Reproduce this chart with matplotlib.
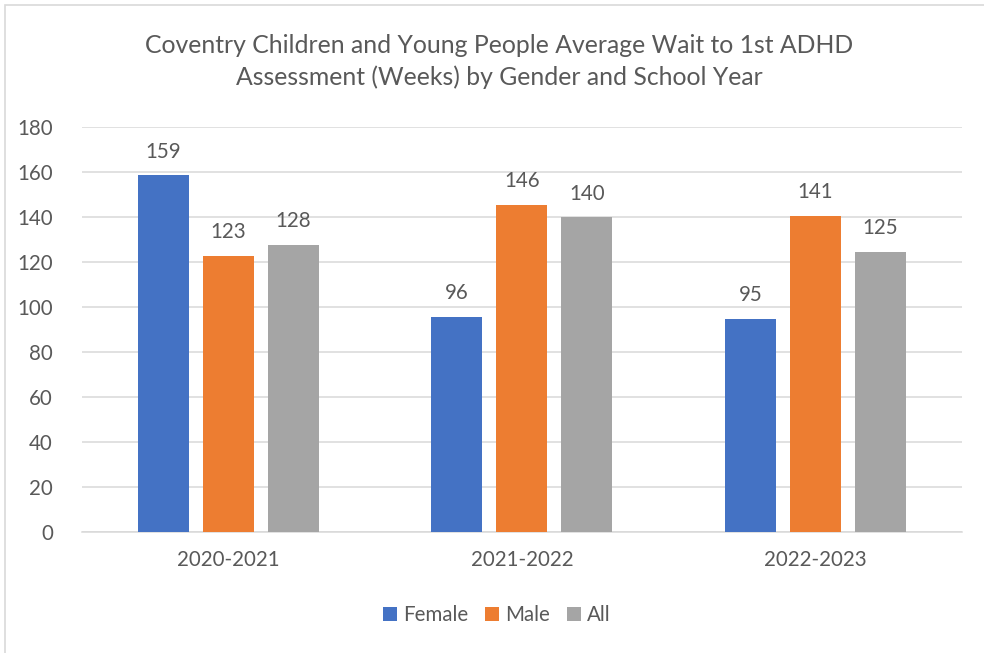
import numpy as np
import matplotlib.pyplot as plt
from matplotlib.patches import Rectangle

# Data
years = ["2020-2021", "2021-2022", "2022-2023"]
female = [158.6, 95.6, 94.6]
male = [122.8, 145.5, 140.6]
all_ = [127.6, 139.8, 124.6]
series_names = ["Female", "Male", "All"]
colors = ["#4472C4", "#ED7D31", "#A5A5A5"]

plt.rcParams['font.family'] = ['Lato', 'DejaVu Sans']
text_color = "#595959"
grid_color = "#D9D9D9"
fs = 14.8

fig = plt.figure(figsize=(9.84, 6.53), dpi=100)
ax = fig.add_axes([0.0833, 0.186, 0.8943, 0.6195])

x = np.arange(len(years))
width = 0.174
pitch = 0.2216
for i, (vals, name, c) in enumerate(zip([female, male, all_], series_names, colors)):
    bars = ax.bar(x + (i - 1) * pitch, vals, width, color=c, label=name, zorder=3)
    for b, v in zip(bars, vals):
        ax.text(b.get_x() + b.get_width() / 2, v + 6, f"{v:.0f}", ha="center", va="bottom",
                fontsize=fs, color=text_color)

ax.set_xlim(-0.5, 2.5)
ax.set_ylim(0, 180)
ax.set_yticks(range(0, 181, 20))
ax.yaxis.grid(True, color=grid_color, linewidth=1.1, zorder=0)
ax.set_xticks(x)
ax.set_xticklabels(years)
ax.tick_params(axis="both", length=0, labelsize=fs, labelcolor=text_color)
ax.tick_params(axis="x", pad=13)
ax.tick_params(axis="y", pad=21)
for s in ["top", "right", "left"]:
    ax.spines[s].set_visible(False)
ax.spines["bottom"].set_color(grid_color)
ax.spines["bottom"].set_linewidth(1.1)

fig.text(0.507, 0.906, "Coventry Children and Young People Average Wait to 1st ADHD\nAssessment (Weeks) by Gender and School Year",
         ha="center", va="center", fontsize=17.8, color=text_color, linespacing=1.45)

leg = fig.legend(loc="center", bbox_to_anchor=(0.505, 0.058), ncol=3, frameon=False,
                 fontsize=fs, handlelength=0.7, handleheight=0.7, handletextpad=0.3,
                 columnspacing=0.8)
for t in leg.get_texts():
    t.set_color(text_color)

# light chart frame (only top and left edges visible)
fig.patches.append(Rectangle((5 / 984, -0.05), 1.1, 1 - 5 / 653 + 0.05, transform=fig.transFigure,
                             fill=False, edgecolor=grid_color, linewidth=1.2))

fig.savefig("out.png", dpi=100)
